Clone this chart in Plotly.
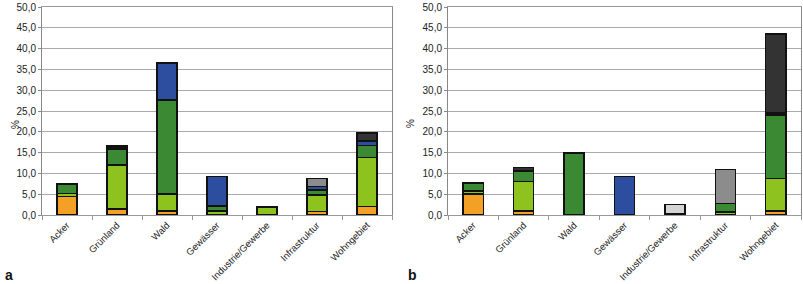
import plotly.graph_objects as go

categories = ["Acker", "Grünland", "Wald", "Gewässer", "Industrie/Gewerbe", "Infrastruktur", "Wohngebiet"]
series_names = ["Acker", "Grünland", "Wald", "Gewässer", "Industrie/Gewerbe", "Infrastruktur", "Wohngebiet"]
series_colors = ["#F2A026", "#8DC21F", "#3B8A33", "#2D4E9E", "#D4D4D4", "#8C8C8C", "#333333"]

# panel a (stack order bottom -> top follows series_names)
a_acker = [4.4, 1.4, 1.0, 0, 0, 0.8, 2.0]
a_gruenland = [0.8, 10.6, 4.1, 1.0, 1.9, 4.0, 11.8]
a_wald = [2.3, 3.9, 22.6, 1.2, 0.1, 1.2, 2.9]
a_gewaesser = [0, 0.4, 8.8, 7.1, 0, 0.9, 1.1]
a_industrie = [0, 0, 0, 0, 0, 0, 0]
a_infra = [0, 0, 0, 0, 0, 1.9, 0]
a_wohn = [0.1, 0.3, 0, 0, 0, 0, 1.9]

# panel b
b_acker = [5.0, 1.0, 0, 0, 0, 0, 1.0]
b_gruenland = [0.8, 7.0, 0, 0, 0, 0.7, 7.8]
b_wald = [1.9, 2.6, 14.9, 0, 0.3, 2.1, 15.2]
b_gewaesser = [0, 0, 0, 9.2, 0, 0, 0.3]
b_industrie = [0, 0, 0, 0, 2.2, 0, 0]
b_infra = [0, 0, 0, 0, 0, 8.2, 0.3]
b_wohn = [0.1, 0.8, 0, 0, 0, 0, 18.9]

y_ticks = [0, 5, 10, 15, 20, 25, 30, 35, 40, 45, 50]

panel_a = [a_acker, a_gruenland, a_wald, a_gewaesser, a_industrie, a_infra, a_wohn]
panel_b = [b_acker, b_gruenland, b_wald, b_gewaesser, b_industrie, b_infra, b_wohn]

fig = go.Figure()
for panel, xa, ya in [(panel_a, "x", "y"), (panel_b, "x2", "y2")]:
    for name, color, vals in zip(series_names, series_colors, panel):
        fig.add_trace(go.Bar(
            x=categories, y=[v if v else None for v in vals], name=name,
            marker=dict(color=color, line=dict(color="#111111", width=1.5)),
            xaxis=xa, yaxis=ya, showlegend=False, width=0.4,
        ))

font = dict(family="Liberation Sans, Arial, sans-serif", size=10, color="#222222")
xfont = dict(family="Liberation Sans, Arial, sans-serif", size=9.5, color="#222222")
xcommon = dict(type="category", tickangle=-45, ticks="outside", tickson="boundaries",
               ticklen=4, tickcolor="#999999", showline=True, linecolor="#999999",
               linewidth=1, mirror=True, showgrid=False, tickfont=xfont, automargin=False,
               ticklabelstandoff=0)
ycommon = dict(range=[0, 50.02], tickvals=y_ticks, tickformat=".1f", ticks="outside",
               ticklen=3, tickcolor="#888888", showline=True, linecolor="#888888",
               linewidth=1, mirror=True, showgrid=True, gridcolor="#AAAAAA",
               gridwidth=1, tickfont=font, zeroline=False, automargin=False)

H = 284
top, bottom = 7, 215
ann_font = dict(family="Liberation Sans, Arial, sans-serif", size=14, color="#111111")
ann_y = (bottom - 275) / (bottom - top)
pct_y = (bottom - 124) / (bottom - top)

fig.update_layout(
    width=803, height=H,
    margin=dict(l=0, r=0, t=top, b=H - bottom),
    paper_bgcolor="white", plot_bgcolor="white",
    separators=",.",
    barmode="stack",
    xaxis=dict(domain=[42 / 803, 392 / 803], anchor="y", **xcommon),
    yaxis=dict(anchor="x", **ycommon),
    xaxis2=dict(domain=[448 / 803, 801 / 803], anchor="y2", **xcommon),
    yaxis2=dict(anchor="x2", **ycommon),
    font=font,
    annotations=[
        dict(text="<b>a</b>", x=3 / 803, y=ann_y, xref="paper", yref="paper",
             xanchor="left", yanchor="middle", showarrow=False, font=ann_font),
        dict(text="<b>b</b>", x=406 / 803, y=ann_y, xref="paper", yref="paper",
             xanchor="left", yanchor="middle", showarrow=False, font=ann_font),
        dict(text="%", x=15 / 803, y=pct_y, xref="paper", yref="paper", textangle=-90,
             xanchor="center", yanchor="middle", showarrow=False, font=font),
        dict(text="%", x=410 / 803, y=pct_y, xref="paper", yref="paper", textangle=-90,
             xanchor="center", yanchor="middle", showarrow=False, font=font),
    ],
)

fig.write_html("out.html", config={"displayModeBar": False},
               post_script="document.body.style.margin='0';")
